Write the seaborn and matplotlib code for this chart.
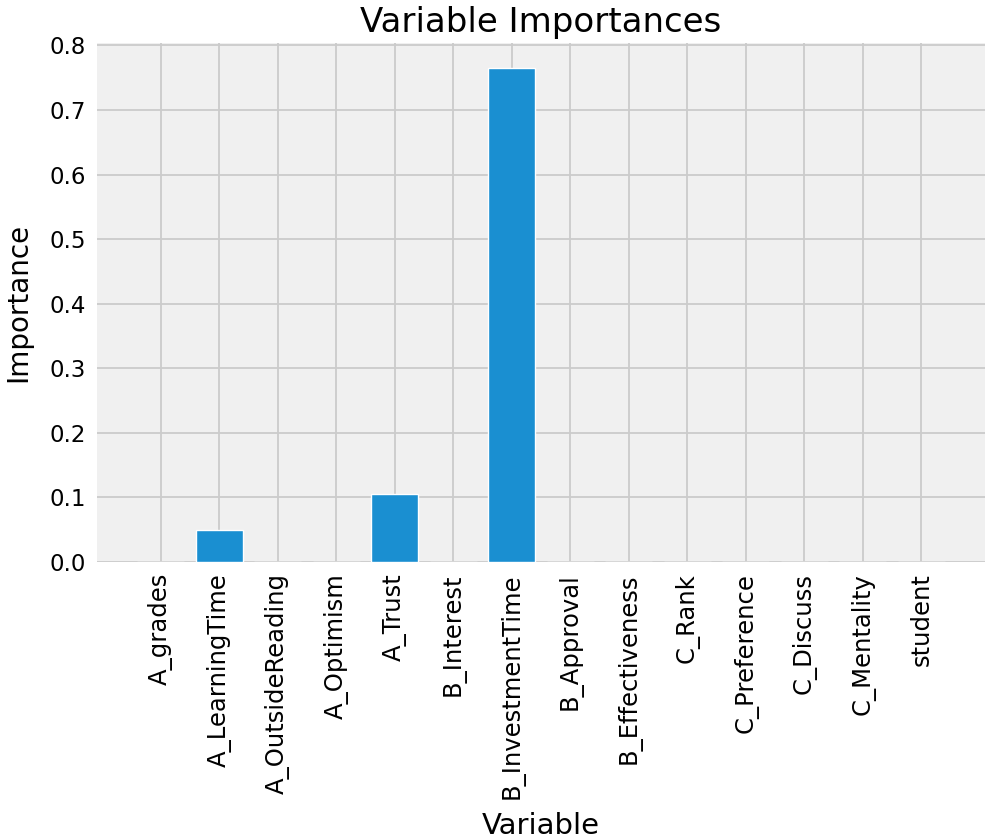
import matplotlib
matplotlib.use("Agg")
import matplotlib.pyplot as plt
import seaborn as sns
import pandas as pd

variables = ["A_grades", "A_LearningTime", "A_OutsideReading", "A_Optimism", "A_Trust",
             "B_Interest", "B_InvestmentTime", "B_Approval", "B_Effectiveness", "C_Rank",
             "C_Preference", "C_Discuss", "C_Mentality", "student"]
importances = [0.0, 0.050, 0.0, 0.0, 0.105, 0.0, 0.765, 0.0, 0.0, 0.0, 0.0, 0.0, 0.0, 0.0]

plt.style.use("fivethirtyeight")
plt.rcParams["font.family"] = ["DejaVu Sans"]

df = pd.DataFrame({"Variable": variables, "Importance": importances})

fig = plt.figure(figsize=(9.96, 8.4), dpi=100, facecolor="white")
ax = fig.add_axes([97/996, 1-562/840, (985-97)/996, (562-43)/840])
ax.set_facecolor("#f0f0f0")

sns.barplot(data=df, x="Variable", y="Importance", color="#1a8fd1", saturation=1,
            width=0.8, edgecolor="white", linewidth=1.0, ax=ax, zorder=3)

ax.set_xlim(-1.09, 14.09)
ax.set_ylim(0, 0.8037)
ax.set_yticks([0.0, 0.1, 0.2, 0.3, 0.4, 0.5, 0.6, 0.7, 0.8])
ax.grid(True, color="#cbcbcb", linewidth=1.3, zorder=0)
ax.set_axisbelow(True)
ax.tick_params(axis="x", labelrotation=90, labelsize=17.5, pad=8)
ax.tick_params(axis="y", labelsize=16.5, pad=8)
ax.set_xlabel("Variable", fontsize=21, labelpad=10)
ax.set_ylabel("Importance", fontsize=20, labelpad=12)
ax.set_title("Variable Importances", fontsize=24.5, pad=8)
for s in ax.spines.values():
    s.set_visible(False)

fig.savefig("out.png", dpi=100, facecolor="white")
